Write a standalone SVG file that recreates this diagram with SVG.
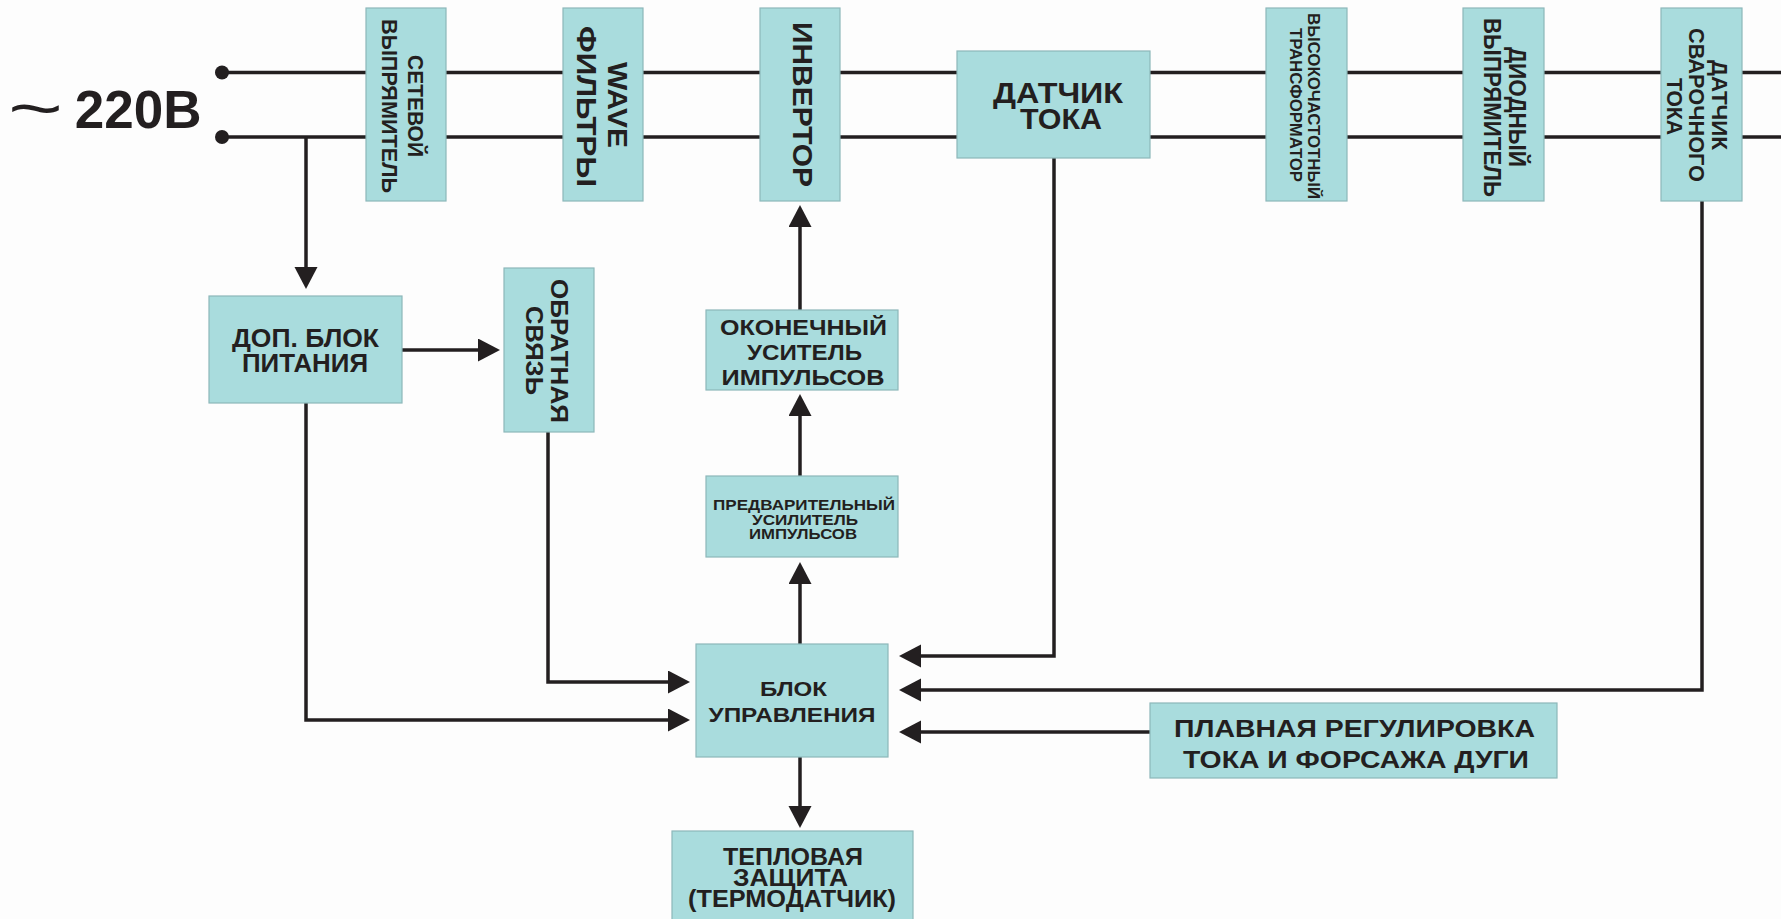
<svg xmlns="http://www.w3.org/2000/svg" width="1781" height="919" viewBox="0 0 1781 919">
<style>
.box{fill:#a9dcdd;stroke:#8db7ba;stroke-width:1.2}
.t{font-family:"Liberation Sans",Arial,sans-serif;font-weight:bold;fill:#231f20;text-anchor:middle}
.c{fill:none;stroke:#231f20;stroke-width:3.5}
.ca{fill:none;stroke:#231f20;stroke-width:3.5;marker-end:url(#ah)}
</style>
<defs>
<marker id="ah" markerUnits="userSpaceOnUse" markerWidth="24" markerHeight="24" refX="10" refY="11.5" orient="auto" viewBox="0 0 24 24">
<path d="M0,0 L22,11.5 L0,23 Z" fill="#231f20"/>
</marker>
</defs>
<rect width="1781" height="919" fill="#fdfdfd"/>
<g id="connectors">
<path class="c" d="M222,72.5 H1781"/>
<path class="c" d="M222,137 H1781"/>
<circle cx="222" cy="72.5" r="7" fill="#231f20"/>
<circle cx="222" cy="137" r="7" fill="#231f20"/>
<path class="ca" d="M306,137 V277"/>
<path class="ca" d="M402,350 H488"/>
<path class="ca" d="M306,403 V720 H678"/>
<path class="ca" d="M548,432 V682 H678"/>
<path class="ca" d="M800,644 V574"/>
<path class="ca" d="M800,476 V406"/>
<path class="ca" d="M800,310 V217"/>
<path class="ca" d="M1054,158 V656 H911"/>
<path class="ca" d="M1702,201 V690 H911"/>
<path class="ca" d="M1150,732 H911"/>
<path class="ca" d="M800,757 V816"/>
</g>
<g id="label-220">
<text class="t" style="text-anchor:start"><tspan x="8" y="131" style="font-weight:normal;font-size:66px" textLength="55" lengthAdjust="spacingAndGlyphs">~</tspan><tspan x="60" y="128" style="font-size:53px"> 220В</tspan></text>
</g>
<g id="n-setevoy">
<rect class="box" x="366" y="8" width="80" height="193"/>
<text class="t" font-size="22" transform="translate(416,106) rotate(90)" y="7.9" textLength="102" lengthAdjust="spacingAndGlyphs">СЕТЕВОЙ</text>
<text class="t" font-size="22" transform="translate(390,106) rotate(90)" y="7.9" textLength="174" lengthAdjust="spacingAndGlyphs">ВЫПРЯМИТЕЛЬ</text>
</g>
<g id="n-wave">
<rect class="box" x="563" y="8" width="80" height="193"/>
<text class="t" font-size="28" transform="translate(618,105) rotate(90)" y="10" textLength="86" lengthAdjust="spacingAndGlyphs">WAVE</text>
<text class="t" font-size="28" transform="translate(587,106.5) rotate(90)" y="10" textLength="161" lengthAdjust="spacingAndGlyphs">ФИЛЬТРЫ</text>
</g>
<g id="n-invertor">
<rect class="box" x="760" y="8" width="80" height="193"/>
<text class="t" font-size="28" transform="translate(803,104.5) rotate(90)" y="10" textLength="165" lengthAdjust="spacingAndGlyphs">ИНВЕРТОР</text>
</g>
<g id="n-datchik-toka">
<rect class="box" x="957" y="51" width="193" height="107"/>
<text class="t" font-size="30" x="1058" y="103" textLength="130" lengthAdjust="spacingAndGlyphs">ДАТЧИК</text>
<text class="t" font-size="30" x="1061" y="129" textLength="82" lengthAdjust="spacingAndGlyphs">ТОКА</text>
</g>
<g id="n-transformator">
<rect class="box" x="1266" y="8" width="81" height="193"/>
<text class="t" font-size="16" transform="translate(1314,106) rotate(90)" y="5.8" textLength="186" lengthAdjust="spacingAndGlyphs">ВЫСОКОЧАСТОТНЫЙ</text>
<text class="t" font-size="16" transform="translate(1296,105) rotate(90)" y="5.8" textLength="154" lengthAdjust="spacingAndGlyphs">ТРАНСФОРМАТОР</text>
</g>
<g id="n-diodny">
<rect class="box" x="1463" y="8" width="81" height="193"/>
<text class="t" font-size="23" transform="translate(1517,107) rotate(90)" y="8.3" textLength="120" lengthAdjust="spacingAndGlyphs">ДИОДНЫЙ</text>
<text class="t" font-size="23" transform="translate(1492,107.5) rotate(90)" y="8.3" textLength="179" lengthAdjust="spacingAndGlyphs">ВЫПРЯМИТЕЛЬ</text>
</g>
<g id="n-datchik-svar">
<rect class="box" x="1661" y="8" width="81" height="193"/>
<text class="t" font-size="21.5" transform="translate(1720,105) rotate(90)" y="7.7" textLength="90" lengthAdjust="spacingAndGlyphs">ДАТЧИК</text>
<text class="t" font-size="21.5" transform="translate(1697,105) rotate(90)" y="7.7" textLength="154" lengthAdjust="spacingAndGlyphs">СВАРОЧНОГО</text>
<text class="t" font-size="21.5" transform="translate(1675,106.5) rotate(90)" y="7.7" textLength="57" lengthAdjust="spacingAndGlyphs">ТОКА</text>
</g>
<g id="n-dop">
<rect class="box" x="209" y="296" width="193" height="107"/>
<text class="t" font-size="26" x="305.5" y="347" textLength="147" lengthAdjust="spacingAndGlyphs">ДОП. БЛОК</text>
<text class="t" font-size="26" x="305" y="372" textLength="126" lengthAdjust="spacingAndGlyphs">ПИТАНИЯ</text>
</g>
<g id="n-obratnaya">
<rect class="box" x="504" y="268" width="90" height="164"/>
<text class="t" font-size="24" transform="translate(560,351) rotate(90)" y="8.6" textLength="144" lengthAdjust="spacingAndGlyphs">ОБРАТНАЯ</text>
<text class="t" font-size="24" transform="translate(535,350.5) rotate(90)" y="8.6" textLength="89" lengthAdjust="spacingAndGlyphs">СВЯЗЬ</text>
</g>
<g id="n-okonechny">
<rect class="box" x="706" y="310" width="192" height="80"/>
<text class="t" font-size="22" x="803.5" y="335" textLength="167" lengthAdjust="spacingAndGlyphs">ОКОНЕЧНЫЙ</text>
<text class="t" font-size="22" x="804.5" y="360" textLength="115" lengthAdjust="spacingAndGlyphs">УСИТЕЛЬ</text>
<text class="t" font-size="22" x="803" y="385" textLength="163" lengthAdjust="spacingAndGlyphs">ИМПУЛЬСОВ</text>
</g>
<g id="n-predv">
<rect class="box" x="706" y="476" width="192" height="81"/>
<text class="t" font-size="15" x="804" y="510" textLength="182" lengthAdjust="spacingAndGlyphs">ПРЕДВАРИТЕЛЬНЫЙ</text>
<text class="t" font-size="15" x="805" y="525" textLength="106" lengthAdjust="spacingAndGlyphs">УСИЛИТЕЛЬ</text>
<text class="t" font-size="15" x="803" y="539" textLength="108" lengthAdjust="spacingAndGlyphs">ИМПУЛЬСОВ</text>
</g>
<g id="n-blok">
<rect class="box" x="696" y="644" width="192" height="113"/>
<text class="t" font-size="21" x="793.5" y="696" textLength="67" lengthAdjust="spacingAndGlyphs">БЛОК</text>
<text class="t" font-size="21" x="792" y="722" textLength="167" lengthAdjust="spacingAndGlyphs">УПРАВЛЕНИЯ</text>
</g>
<g id="n-plavnaya">
<rect class="box" x="1150" y="703" width="407" height="75"/>
<text class="t" font-size="24" x="1354.5" y="737" textLength="361" lengthAdjust="spacingAndGlyphs">ПЛАВНАЯ РЕГУЛИРОВКА</text>
<text class="t" font-size="24" x="1356" y="768" textLength="346" lengthAdjust="spacingAndGlyphs">ТОКА И ФОРСАЖА ДУГИ</text>
</g>
<g id="n-teplovaya">
<rect class="box" x="672" y="831" width="241" height="95"/>
<text class="t" font-size="23" x="793" y="865" textLength="140" lengthAdjust="spacingAndGlyphs">ТЕПЛОВАЯ</text>
<text class="t" font-size="23" x="790.5" y="886" textLength="115" lengthAdjust="spacingAndGlyphs">ЗАЩИТА</text>
<text class="t" font-size="23" x="792" y="907" textLength="208" lengthAdjust="spacingAndGlyphs">(ТЕРМОДАТЧИК)</text>
</g>
</svg>
